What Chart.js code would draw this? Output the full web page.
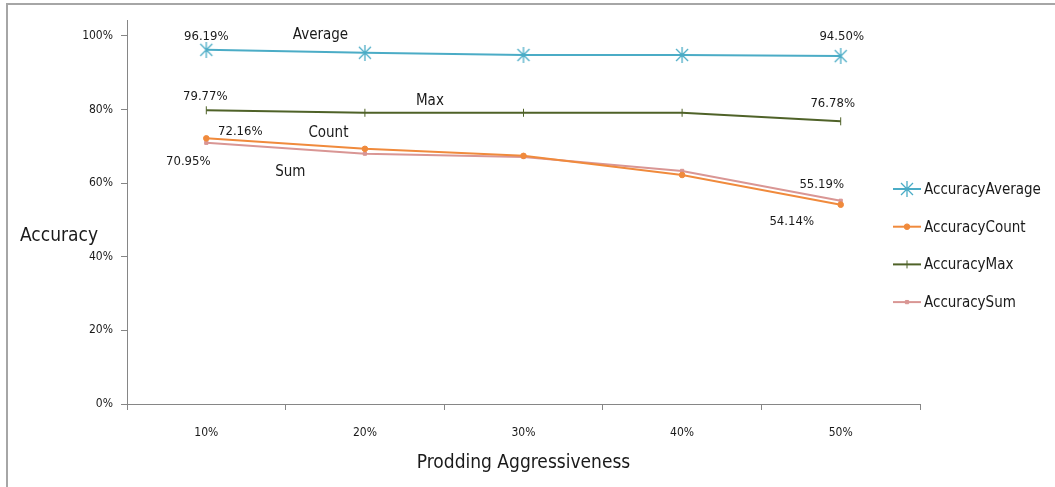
<!DOCTYPE html>
<html><head><meta charset="utf-8">
<script src="https://cdn.jsdelivr.net/npm/chart.js@4/dist/chart.umd.min.js"></script>
<style>html,body{margin:0;padding:0;background:#fff;}#wrap{position:relative;width:1055px;height:487px;}</style>
</head><body><div id="wrap"><canvas id="c" width="1055" height="487"></canvas></div>
<script>
const categories = ['10%', '20%', '30%', '40%', '50%'];
const accuracyAverage = [96.19, 95.4, 94.8, 94.8, 94.50];
const accuracyCount = [72.16, 69.3, 67.4, 62.2, 54.14];
const accuracyMax = [79.77, 79.1, 79.1, 79.1, 76.78];
const accuracySum = [70.95, 68.0, 67.1, 63.3, 55.19];
const yTicks = [0, 20, 40, 60, 80, 100];
const seriesNames = ['AccuracyAverage', 'AccuracyCount', 'AccuracyMax', 'AccuracySum'];
// value labels: [datasetIndex, pointIndex, text, dx, dy]
const valueLabels = [
  [0, 0, '96.19%', 0, -13], [0, 4, '94.50%', 1, -19],
  [2, 0, '79.77%', -1, -14], [2, 4, '76.78%', -8, -18],
  [1, 0, '72.16%', 34, -7], [3, 0, '70.95%', -18, 19],
  [3, 4, '55.19%', -19, -16], [1, 4, '54.14%', -49, 17]
];
// series name annotations in data coordinates: [text, xIndex, yValue]
const nameLabels = [['Average', 0.72, 100.2], ['Max', 1.41, 82.3], ['Count', 0.77, 73.6], ['Sum', 0.53, 63.0]];

const FONT = "'Liberation Sans Narrow', 'DejaVu Sans Condensed', 'Liberation Sans', sans-serif";
const colors = ['#4bacc6', '#f08a3c', '#4f6228', '#d99694'];

function starMarker(color) {
  const c = document.createElement('canvas');
  c.width = 16; c.height = 16;
  const g = c.getContext('2d');
  g.strokeStyle = color; g.lineWidth = 1.3;
  g.beginPath();
  g.moveTo(2, 2); g.lineTo(14, 14);
  g.moveTo(14, 2); g.lineTo(2, 14);
  g.moveTo(8, 0); g.lineTo(8, 16);
  g.stroke();
  return c;
}
const star = starMarker(colors[0]);

const decor = {
  id: 'decor',
  afterDraw(chart) {
    const ctx = chart.ctx, x = chart.scales.x, y = chart.scales.y;
    ctx.save();
    // outer frame
    ctx.strokeStyle = '#a6a6a6'; ctx.lineWidth = 2;
    ctx.beginPath(); ctx.moveTo(1055, 4); ctx.lineTo(7, 4); ctx.lineTo(7, 487); ctx.stroke();
    ctx.fillStyle = '#1a1a1a';
    ctx.textAlign = 'center'; ctx.textBaseline = 'middle';
    ctx.font = '13px ' + FONT;
    valueLabels.forEach(([d, i, t, dx, dy]) => {
      const p = chart.getDatasetMeta(d).data[i];
      ctx.fillText(t, p.x + dx, p.y + dy);
    });
    ctx.font = '15px ' + FONT;
    nameLabels.forEach(([t, xi, yv]) => {
      ctx.fillText(t, x.getPixelForValue(xi), y.getPixelForValue(yv));
    });
    // y title (horizontal)
    ctx.font = '19px ' + FONT;
    ctx.textAlign = 'left';
    ctx.fillText('Accuracy', 20, 236);
    // x title
    ctx.textAlign = 'center';
    ctx.fillText('Prodding Aggressiveness', (chart.chartArea.left + chart.chartArea.right) / 2, 463);
    // legend
    ctx.font = '15px ' + FONT;
    ctx.textAlign = 'left';
    chart.data.datasets.forEach((ds, k) => {
      const ly = 189 + k * 37.7;
      ctx.strokeStyle = ds.borderColor; ctx.fillStyle = ds.borderColor; ctx.lineWidth = 2;
      ctx.beginPath(); ctx.moveTo(893, ly); ctx.lineTo(921, ly); ctx.stroke();
      ctx.lineWidth = 1;
      Chart.helpers.drawPoint(ctx, {
        pointStyle: ds.pointStyle, rotation: ds.pointRotation || 0,
        radius: ds.pointRadius, borderWidth: 1
      }, 907, ly);
      ctx.fillStyle = '#1a1a1a';
      ctx.fillText(seriesNames[k], 924, ly + 1);
    });
    ctx.restore();
  }
};

new Chart(document.getElementById('c'), {
  type: 'line',
  data: {
    labels: categories,
    datasets: [
      { label: seriesNames[0], data: accuracyAverage, borderColor: colors[0], backgroundColor: colors[0],
        borderWidth: 2, pointStyle: star, pointRadius: 8, pointBorderWidth: 1 },
      { label: seriesNames[1], data: accuracyCount, borderColor: colors[1], backgroundColor: colors[1],
        borderWidth: 2, pointStyle: 'circle', pointRadius: 2.8, pointBorderWidth: 1 },
      { label: seriesNames[2], data: accuracyMax, borderColor: colors[2], backgroundColor: colors[2],
        borderWidth: 2, pointStyle: 'line', pointRotation: 90, pointRadius: 4, pointBorderWidth: 1 },
      { label: seriesNames[3], data: accuracySum, borderColor: colors[3], backgroundColor: colors[3],
        borderWidth: 2, pointStyle: 'rect', pointRadius: 2.3, pointBorderWidth: 1 }
    ]
  },
  options: {
    responsive: false, animation: false, devicePixelRatio: 1,
    layout: { padding: { left: 0, right: 135, top: 20, bottom: 0 } },
    plugins: { legend: { display: false }, tooltip: { enabled: false } },
    elements: { line: { tension: 0 } },
    scales: {
      x: {
        offset: true,
        grid: { offset: true, drawOnChartArea: false, drawTicks: true, tickLength: 6, color: '#868686' },
        border: { color: '#868686', width: 1 },
        ticks: { font: { family: FONT, size: 12 }, color: '#1a1a1a', padding: 16 },
        afterFit(s) { s.height = 83; }
      },
      y: {
        min: 0, max: 104.3,
        afterBuildTicks(s) { s.ticks = yTicks.map(v => ({ value: v })); },
        grid: { drawOnChartArea: false, drawTicks: true, tickLength: 6, color: '#868686' },
        border: { color: '#868686', width: 1 },
        ticks: { font: { family: FONT, size: 12 }, color: '#1a1a1a', padding: 8, callback: v => v + '%' },
        afterFit(s) { s.width = 127; }
      }
    }
  },
  plugins: [decor]
});
</script></body></html>
